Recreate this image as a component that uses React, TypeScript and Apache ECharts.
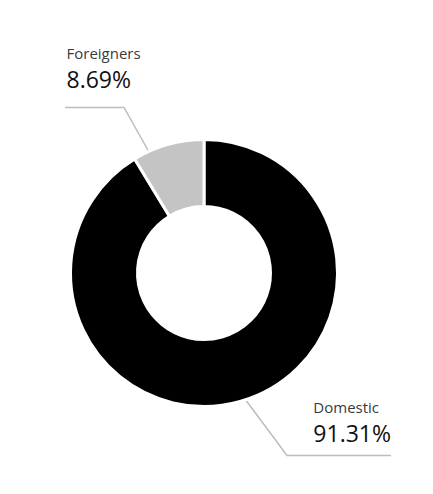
import React, { useEffect, useRef } from 'react';
import * as echarts from 'echarts';

// 数据
const categories = ['Domestic', 'Foreigners'];
const shares = [91.31, 8.69];
const sliceColors = ['#000000', '#c4c4c4'];

// 标签和引导线的位置（像素，相对图表容器）
// side: 'right' 表示文字块右边缘贴着引导线末端
const labelAnchors = [
  { x: 383, y: 386, side: 'right' },
  { x: 58.5, y: 31.7, side: 'left' },
];
const guideLines = [
  [[237, 391], [279, 447.5], [383, 447.5]],
  [[141, 144], [116, 99.5], [57, 99.5]],
];

const App: React.FC = () => {
  const chartRef = useRef<HTMLDivElement>(null);

  useEffect(() => {
    if (!chartRef.current) return;
    const chart = echarts.init(chartRef.current, undefined, { renderer: 'svg' });

    const option = {
      animation: false,
      textStyle: { fontFamily: 'Open Sans' },
      series: [
        {
          type: 'pie',
          center: [196, 265],
          radius: [66.5, 133.5],
          startAngle: 90,
          clockwise: true,
          avoidLabelOverlap: false,
          itemStyle: { borderColor: '#ffffff', borderWidth: 3 },
          emphasis: { disabled: true },
          label: {
            show: true,
            position: 'outside',
            formatter: (p: any) => `{name|${p.name}}\n{val|${p.value.toFixed(2)}%}`,
            rich: {
              name: { fontSize: 15, color: '#3a3a3a', lineHeight: 26, fontFamily: 'Open Sans' },
              val: { fontSize: 23, color: '#111111', lineHeight: 26, fontFamily: 'Open Sans' },
            },
          },
          labelLine: {
            show: true,
            lineStyle: { color: '#bdbdbd', width: 1.5 },
          },
          labelLayout: (params: any) => {
            const a = labelAnchors[params.dataIndex];
            const w = params.labelRect ? params.labelRect.width : 0;
            return {
              x: a.side === 'right' ? a.x - w : a.x,
              y: a.y,
              align: 'left',
              verticalAlign: 'top',
              labelLinePoints: guideLines[params.dataIndex],
            };
          },
          data: categories.map((name, i) => ({
            name,
            value: shares[i],
            itemStyle: { color: sliceColors[i] },
          })),
        },
      ],
    };

    chart.setOption(option);
    return () => {
      chart.dispose();
    };
  }, []);

  return <div ref={chartRef} style={{ width: '417px', height: '478px' }} />;
};

export default App;
